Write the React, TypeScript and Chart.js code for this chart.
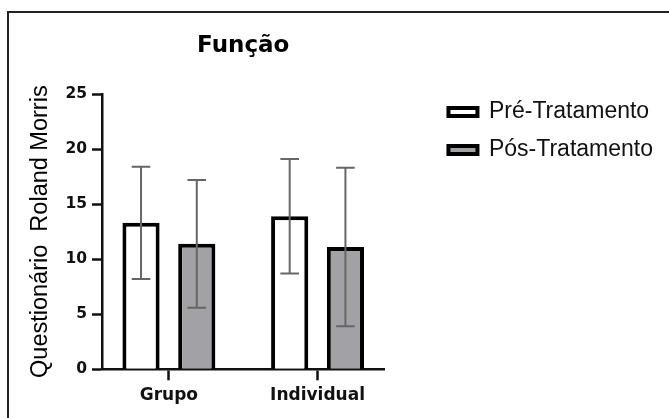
import React, { useEffect, useRef } from 'react';
import { Chart, registerables } from 'chart.js';

Chart.register(...registerables);

// ---- data ----
const chartTitle = 'Função';
const yAxisTitle = 'Questionário  Roland Morris';
const categories = ['Grupo', 'Individual'];
const seriesLabels = ['Pré-Tratamento', 'Pós-Tratamento'];
const preMeans = [13.3, 13.9];
const preSD = [5.1, 5.2];
const posMeans = [11.4, 11.1];
const posSD = [5.8, 7.2];
const yTicks = [0, 5, 10, 15, 20, 25];

const BOLD_FONT = "'DejaVu Sans', Verdana, sans-serif";
const REG_FONT = "'Liberation Sans', Arial, sans-serif";

const errorBarPlugin = {
  id: 'errorBars',
  afterDatasetsDraw(chart: any) {
    const { ctx } = chart;
    const yScale = chart.scales.y;
    chart.data.datasets.forEach((ds: any, di: number) => {
      const meta = chart.getDatasetMeta(di);
      if (meta.hidden) return;
      meta.data.forEach((bar: any, i: number) => {
        const mean = ds.data[i].y;
        const sd = ds.errors[i];
        const top = yScale.getPixelForValue(mean + sd);
        const bot = yScale.getPixelForValue(mean - sd);
        const half = bar.width * 0.25;
        ctx.save();
        ctx.strokeStyle = '#666666';
        ctx.lineWidth = 2;
        ctx.beginPath();
        ctx.moveTo(bar.x, top);
        ctx.lineTo(bar.x, bot);
        ctx.moveTo(bar.x - half, top);
        ctx.lineTo(bar.x + half, top);
        ctx.moveTo(bar.x - half, bot);
        ctx.lineTo(bar.x + half, bot);
        ctx.stroke();
        ctx.restore();
      });
    });
  },
};

export default function App() {
  const ref = useRef<HTMLCanvasElement | null>(null);

  useEffect(() => {
    if (!ref.current) return;
    const chart = new Chart(ref.current, {
      type: 'bar',
      data: {
        datasets: [
          {
            label: seriesLabels[0],
            data: categories.map((_, i) => ({ x: i, y: preMeans[i] })),
            errors: preSD,
            backgroundColor: '#ffffff',
            borderColor: '#000000',
            borderWidth: 4,
            categoryPercentage: 0.75,
            barPercentage: 0.667,
            xAxisID: 'x',
            yAxisID: 'y',
          } as any,
          {
            label: seriesLabels[1],
            data: categories.map((_, i) => ({ x: i, y: posMeans[i] })),
            errors: posSD,
            backgroundColor: '#a2a2a6',
            borderColor: '#000000',
            borderWidth: 4,
            categoryPercentage: 0.75,
            barPercentage: 0.667,
            xAxisID: 'x',
            yAxisID: 'y',
          } as any,
        ],
      },
      options: {
        responsive: false,
        animation: false,
        events: [],
        layout: { padding: { top: 0, left: 0, right: 6, bottom: 0 } },
        plugins: {
          title: {
            display: true,
            text: chartTitle,
            fullSize: false,
            color: '#000000',
            font: { family: BOLD_FONT, size: 23, weight: 'bold', lineHeight: 1.2 },
            padding: { top: 32.1, bottom: 34.3 },
          },
          legend: {
            display: true,
            position: 'right',
            align: 'start',
            fullSize: true,
            maxWidth: 400,
            title: {
              display: true,
              text: '',
              font: { size: 10, lineHeight: 1.2 },
              padding: { top: 73.5, bottom: 0 },
            },
            labels: {
              boxWidth: 29,
              boxHeight: 8,
              padding: 15,
              color: '#111111',
              font: { family: REG_FONT, size: 23 },
            },
          },
          tooltip: { enabled: false },
        },
        scales: {
          x: {
            type: 'linear',
            position: 'bottom',
            min: -0.45,
            max: 1.45,
            offset: false,
            afterBuildTicks: (s: any) => {
              s.ticks = categories.map((_, i) => ({ value: i }));
            },
            afterFit: (s: any) => {
              s.height = 48.7;
            },
            grid: {
              display: true,
              drawOnChartArea: false,
              drawTicks: true,
              tickLength: 11,
              tickWidth: 2.5,
              tickColor: '#111111',
              offset: false,
            },
            border: { display: true, color: '#111111', width: 2.5 },
            ticks: {
              callback: (v: any) => categories[v] ?? '',
              padding: 5.5,
              color: '#111111',
              autoSkip: false,
              maxRotation: 0,
              font: { family: BOLD_FONT, size: 17, weight: 'bold' },
            },
          },
          y: {
            type: 'linear',
            position: 'left',
            min: yTicks[0],
            max: yTicks[yTicks.length - 1],
            afterBuildTicks: (s: any) => {
              s.ticks = yTicks.map((v) => ({ value: v }));
            },
            afterFit: (s: any) => {
              s.width = 102;
            },
            grid: {
              display: true,
              drawOnChartArea: false,
              drawTicks: true,
              tickLength: 10,
              tickWidth: 2.5,
              tickColor: '#111111',
            },
            border: { display: true, color: '#111111', width: 2.5 },
            ticks: {
              padding: 5,
              color: '#111111',
              font: { family: BOLD_FONT, size: 15.5, weight: 'bold' },
            },
            title: {
              display: true,
              text: yAxisTitle,
              color: '#000000',
              font: { family: REG_FONT, size: 23.5, lineHeight: 1.2 },
              padding: { top: 26.2, bottom: 0 },
            },
          },
          sp: {
            type: 'linear',
            position: 'right',
            display: true,
            grid: { display: false },
            border: { display: false },
            ticks: { display: false },
            afterFit: (s: any) => {
              s.width = 49;
            },
          },
        },
      } as any,
      plugins: [errorBarPlugin],
    });
    return () => chart.destroy();
  }, []);

  return (
    <div style={{ position: 'absolute', left: 0, top: 0, width: 669, height: 418, background: '#ffffff', overflow: 'hidden' }}>
      <div
        style={{
          position: 'absolute',
          left: 7,
          top: 11,
          width: 662,
          height: 407,
          boxSizing: 'border-box',
          borderTop: '2px solid #222222',
          borderLeft: '2px solid #222222',
        }}
      />
      <canvas
        ref={ref}
        width={669}
        height={418}
        style={{ position: 'absolute', left: 0, top: 0, width: 669, height: 418 }}
      />
    </div>
  );
}
